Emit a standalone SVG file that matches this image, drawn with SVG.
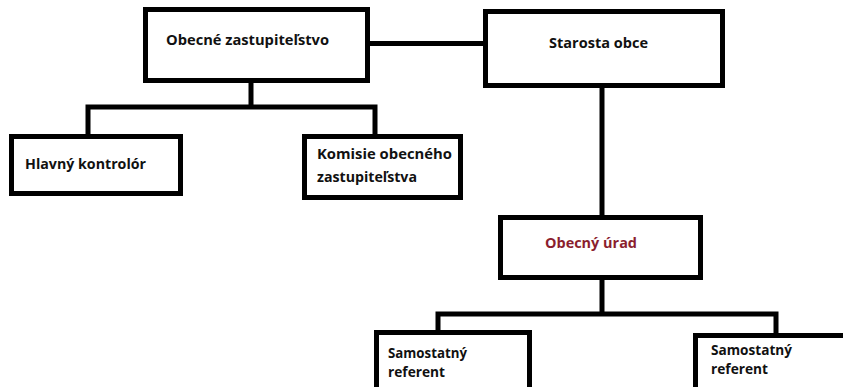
<svg xmlns="http://www.w3.org/2000/svg" width="843" height="387" viewBox="0 0 843 387">
<style>
.box{fill:#fff;stroke:#000;stroke-width:5}
.ln{fill:none;stroke:#000;stroke-width:5;stroke-linejoin:miter;stroke-linecap:butt}
text{font-family:"Open Sans","Noto Sans","Liberation Sans",sans-serif;font-weight:bold;font-size:15px;fill:#111}
.red{fill:#8b1e2e}
</style>
<rect width="843" height="387" fill="#fff"/>
<g id="connectors">
<path class="ln" d="M370 43.5H484"/>
<path class="ln" d="M251 83V107M88 135V107H375V135"/>
<path class="ln" d="M602 88V216"/>
<path class="ln" d="M602 280V314M438 331V314H776V334"/>
</g>
<g id="obecne-zastupitelstvo">
<rect class="box" x="145.5" y="9.5" width="222" height="71"/>
<text x="166" y="45" textLength="163" lengthAdjust="spacingAndGlyphs">Obecné zastupiteľstvo</text>
</g>
<g id="starosta-obce">
<rect class="box" x="485.5" y="11.5" width="237" height="74"/>
<text x="549" y="48" textLength="99" lengthAdjust="spacingAndGlyphs">Starosta obce</text>
</g>
<g id="hlavny-kontrolor">
<rect class="box" x="11.5" y="136.5" width="169" height="57"/>
<text x="25" y="169" textLength="121" lengthAdjust="spacingAndGlyphs">Hlavný kontrolór</text>
</g>
<g id="komisie">
<rect class="box" x="304.5" y="136.5" width="156" height="61"/>
<text x="317" y="159" textLength="135" lengthAdjust="spacingAndGlyphs">Komisie obecného</text>
<text x="317" y="182" textLength="100" lengthAdjust="spacingAndGlyphs">zastupiteľstva</text>
</g>
<g id="obecny-urad">
<rect class="box" x="500.5" y="217.5" width="200" height="60"/>
<text class="red" x="545" y="248" textLength="92" lengthAdjust="spacingAndGlyphs">Obecný úrad</text>
</g>
<g id="samostatny-referent-1">
<rect class="box" x="376.5" y="332.5" width="153" height="80"/>
<text x="388" y="358" textLength="79" lengthAdjust="spacingAndGlyphs">Samostatný</text>
<text x="388" y="377" textLength="57" lengthAdjust="spacingAndGlyphs">referent</text>
</g>
<g id="samostatny-referent-2">
<rect class="box" x="695.5" y="335.5" width="170" height="80"/>
<text x="711" y="355" textLength="81" lengthAdjust="spacingAndGlyphs">Samostatný</text>
<text x="711" y="374" textLength="57" lengthAdjust="spacingAndGlyphs">referent</text>
</g>
</svg>
